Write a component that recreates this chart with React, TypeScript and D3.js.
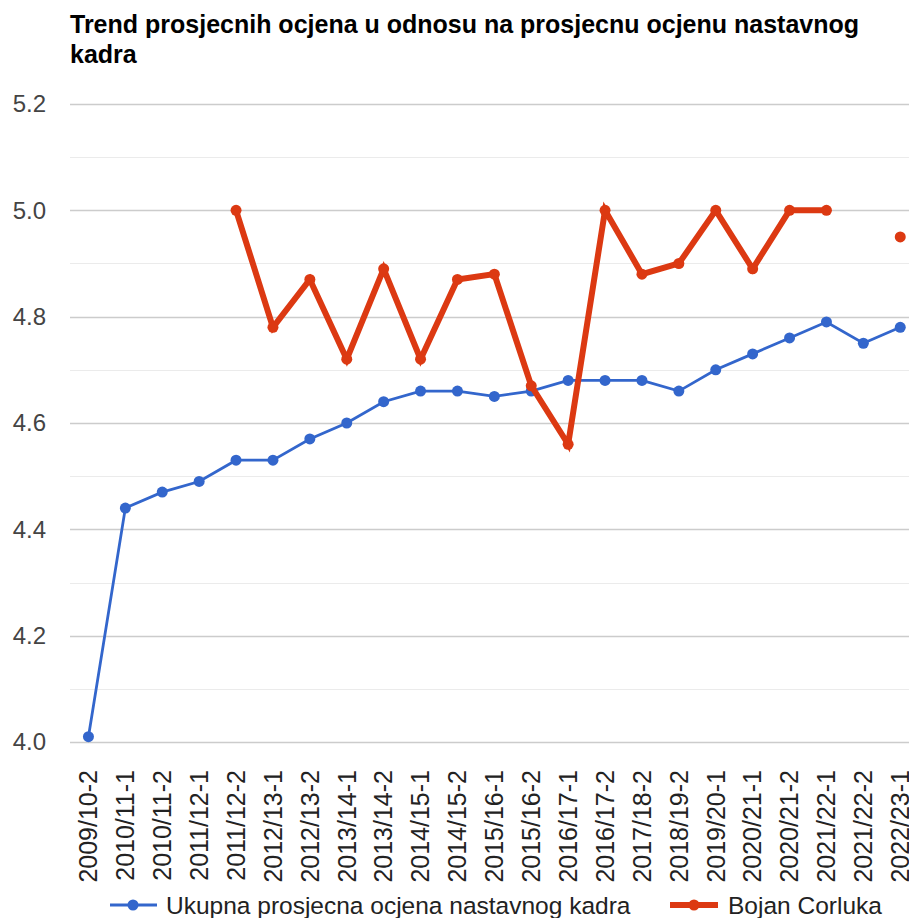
import React from "react";
import * as d3 from "d3";

const categories = [
  "2009/10-2", "2010/11-1", "2010/11-2", "2011/12-1", "2011/12-2", "2012/13-1",
  "2012/13-2", "2013/14-1", "2013/14-2", "2014/15-1", "2014/15-2", "2015/16-1",
  "2015/16-2", "2016/17-1", "2016/17-2", "2017/18-2", "2018/19-2", "2019/20-1",
  "2020/21-1", "2020/21-2", "2021/22-1", "2021/22-2", "2022/23-1",
];

const staffAverage = [
  4.01, 4.44, 4.47, 4.49, 4.53, 4.53, 4.57, 4.6, 4.64, 4.66, 4.66, 4.65,
  4.66, 4.68, 4.68, 4.68, 4.66, 4.7, 4.73, 4.76, 4.79, 4.75, 4.78,
];

const teacherAverage: (number | null)[] = [
  null, null, null, null, 5.0, 4.78, 4.87, 4.72, 4.89, 4.72, 4.87, 4.88,
  4.67, 4.56, 5.0, 4.88, 4.9, 5.0, 4.89, 5.0, 5.0, null, 4.95,
];

const yTicks = [4.0, 4.2, 4.4, 4.6, 4.8, 5.0, 5.2];
const yMinorTicks = [4.1, 4.3, 4.5, 4.7, 4.9, 5.1];

const seriesNames = ["Ukupna prosjecna ocjena nastavnog kadra", "Bojan Corluka"];

const BLUE = "#3366cc";
const RED = "#dc3912";
const FONT = "'Liberation Sans', Arial, sans-serif";

export default function App() {
  const ref = React.useRef<SVGSVGElement>(null);
  const width = 909;
  const height = 918;

  React.useEffect(() => {
    const svg = d3.select(ref.current);
    svg.selectAll("*").remove();

    const left = 70;
    const bandW = 36.9;
    const x = d3
      .scalePoint()
      .domain(categories)
      .range([left + bandW / 2, left + bandW / 2 + bandW * (categories.length - 1)]);
    const y = d3.scaleLinear().domain([4.0, 5.2]).range([742, 104]);

    // naslov
    const title = svg
      .append("text")
      .attr("x", left)
      .style("font-family", FONT)
      .style("font-weight", "bold")
      .style("font-size", "25px")
      .style("fill", "#000");
    title.append("tspan").attr("x", left).attr("y", 33).text("Trend prosjecnih ocjena u odnosu na prosjecnu ocjenu nastavnog");
    title.append("tspan").attr("x", left).attr("y", 63).text("kadra");

    // mreza
    svg
      .append("g")
      .selectAll("line")
      .data(yMinorTicks)
      .enter()
      .append("line")
      .attr("x1", left)
      .attr("x2", width)
      .attr("y1", (d) => Math.round(y(d)) + 0.5)
      .attr("y2", (d) => Math.round(y(d)) + 0.5)
      .attr("stroke", "#ebebeb")
      .attr("stroke-width", 1);

    svg
      .append("g")
      .selectAll("line")
      .data(yTicks)
      .enter()
      .append("line")
      .attr("x1", left)
      .attr("x2", width)
      .attr("y1", (d) => Math.round(y(d)) + 0.5)
      .attr("y2", (d) => Math.round(y(d)) + 0.5)
      .attr("stroke", "#cccccc")
      .attr("stroke-width", 1.5);

    // y oznake
    svg
      .append("g")
      .selectAll("text")
      .data(yTicks)
      .enter()
      .append("text")
      .attr("x", 46)
      .attr("y", (d) => y(d))
      .attr("dy", "0.35em")
      .attr("text-anchor", "end")
      .style("font-family", FONT)
      .style("font-size", "24px")
      .style("fill", "#444")
      .text((d) => d3.format(".1f")(d));

    // x oznake
    svg
      .append("g")
      .selectAll("text")
      .data(categories)
      .enter()
      .append("text")
      .attr("transform", (d) => `translate(${x(d)}, 770) rotate(-90)`)
      .attr("dy", "0.35em")
      .attr("text-anchor", "end")
      .style("font-family", FONT)
      .style("font-size", "25px")
      .style("fill", "#222")
      .text((d) => d);

    // plava serija
    const blueLine = d3
      .line<number>()
      .x((d, i) => x(categories[i]) as number)
      .y((d) => y(d));
    svg
      .append("path")
      .attr("d", blueLine(staffAverage))
      .attr("fill", "none")
      .attr("stroke", BLUE)
      .attr("stroke-width", 2.8);
    svg
      .append("g")
      .selectAll("circle")
      .data(staffAverage)
      .enter()
      .append("circle")
      .attr("cx", (d, i) => x(categories[i]) as number)
      .attr("cy", (d) => y(d))
      .attr("r", 5.5)
      .attr("fill", BLUE);

    // crvena serija
    const redLine = d3
      .line<number | null>()
      .defined((d) => d !== null)
      .x((d, i) => x(categories[i]) as number)
      .y((d) => y(d as number));
    svg
      .append("path")
      .attr("d", redLine(teacherAverage))
      .attr("fill", "none")
      .attr("stroke", RED)
      .attr("stroke-width", 6)
      .attr("stroke-linejoin", "miter");
    svg
      .append("g")
      .selectAll("circle")
      .data(teacherAverage.map((v, i) => ({ v, c: categories[i] })).filter((d) => d.v !== null))
      .enter()
      .append("circle")
      .attr("cx", (d) => x(d.c) as number)
      .attr("cy", (d) => y(d.v as number))
      .attr("r", 5.5)
      .attr("fill", RED);

    // legenda
    const legend = svg.append("g").attr("transform", "translate(0, 905)");
    legend.append("line").attr("x1", 110).attr("x2", 157).attr("y1", 0).attr("y2", 0).attr("stroke", BLUE).attr("stroke-width", 2.8);
    legend.append("circle").attr("cx", 133).attr("cy", 0).attr("r", 5.5).attr("fill", BLUE);
    legend
      .append("text")
      .attr("x", 166)
      .attr("dy", "0.35em")
      .style("font-family", FONT)
      .style("font-size", "24.5px")
      .style("fill", "#222")
      .text(seriesNames[0]);
    legend.append("line").attr("x1", 670).attr("x2", 718).attr("y1", 0).attr("y2", 0).attr("stroke", RED).attr("stroke-width", 6);
    legend.append("circle").attr("cx", 694).attr("cy", 0).attr("r", 5.5).attr("fill", RED);
    legend
      .append("text")
      .attr("x", 728)
      .attr("dy", "0.35em")
      .style("font-family", FONT)
      .style("font-size", "24.5px")
      .style("fill", "#222")
      .text(seriesNames[1]);
  }, []);

  return (
    <div style={{ position: "absolute", left: 0, top: 0 }}>
      <svg ref={ref} width={width} height={height} style={{ display: "block" }} />
    </div>
  );
}
